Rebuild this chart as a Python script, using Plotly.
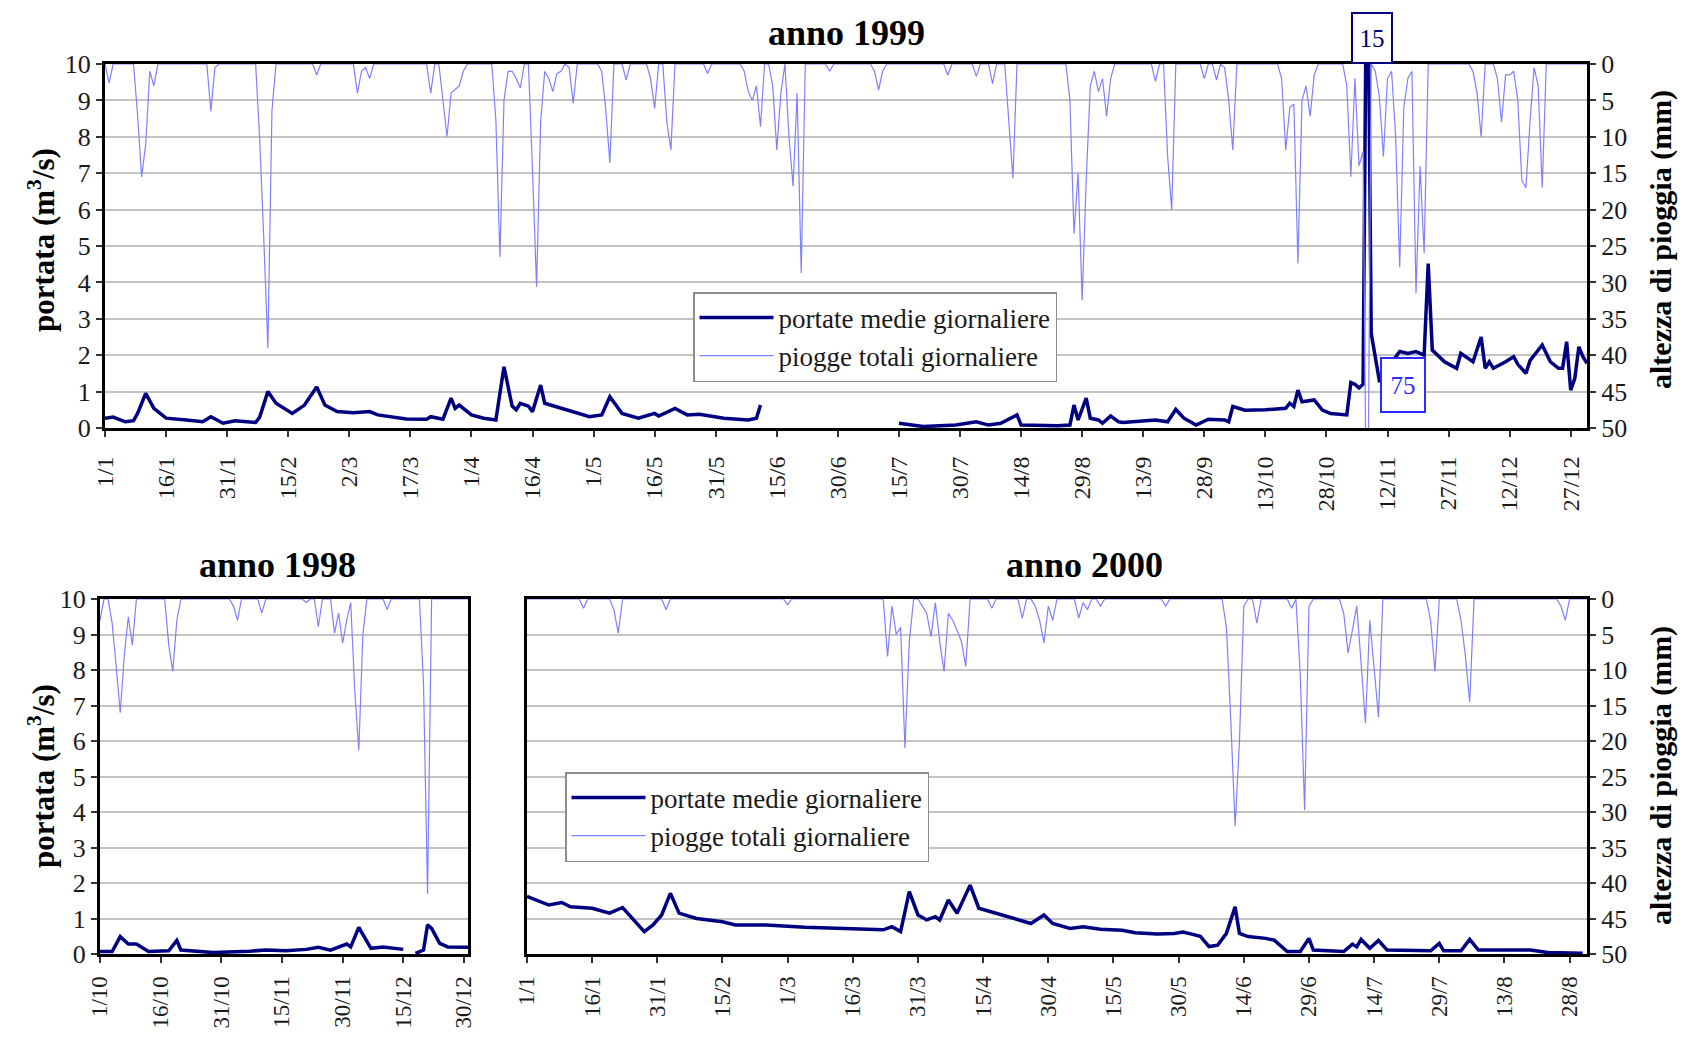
import pandas as pd
import plotly.graph_objects as go

# ---------------- DATA ----------------
# anno 1999 : day offset from 1 Jan 1999
flow_1999_day = [0, 2, 5, 7, 8, 10, 12, 15, 20, 24, 26, 29, 32, 37, 38, 40, 42, 46, 49, 52, 54, 57, 61, 65, 67,
                 74, 79, 80, 83, 85, 86, 87, 90, 93, 96, 98, 100, 101, 102, 104, 105, 107, 108, 112, 115, 119,
                 122, 124, 127, 131, 135, 136, 140, 143, 146, 152, 158, 160, 161, 162,
                 195, 201, 209, 214, 217, 220, 224, 225, 234, 237, 238, 239, 241, 242, 244, 245, 247, 249, 250,
                 258, 261, 263, 265, 268, 271, 275, 276, 277, 280, 285, 290, 291, 292, 293, 294, 297, 299, 301,
                 305, 306, 307, 308, 309, 310, 311, 312, 313, 314, 316, 318, 320, 322, 324, 325, 326, 329, 332,
                 333, 335, 336, 338, 339, 340, 341, 344, 346, 347, 349, 350, 353, 355, 357, 358, 359, 360, 361,
                 362, 363, 364]
flow_1999_q = [0.27, 0.3, 0.17, 0.2, 0.4, 0.95, 0.54, 0.27, 0.22, 0.17, 0.31, 0.13, 0.2, 0.15, 0.3, 1.0, 0.68,
               0.4, 0.63, 1.13, 0.63, 0.45, 0.42, 0.45, 0.36,
               0.25, 0.24, 0.31, 0.24, 0.82, 0.54, 0.63, 0.36, 0.27, 0.22, 1.68, 0.6, 0.5, 0.68, 0.6, 0.45,
               1.18, 0.68, 0.54, 0.45, 0.31,
               0.36, 0.86, 0.4, 0.27, 0.4, 0.33, 0.54, 0.36, 0.38, 0.27, 0.22, 0.27, 0.63, None,
               0.13, 0.04, 0.08, 0.17, 0.08, 0.13, 0.36, 0.08, 0.06, 0.08, 0.63, 0.22, 0.82, 0.27, 0.22, 0.13,
               0.33, 0.17, 0.15,
               0.22, 0.17, 0.51, 0.27, 0.08, 0.24, 0.22, 0.17, 0.59, 0.49, 0.5, 0.54, 0.68, 0.59, 1.04, 0.72,
               0.77, 0.49, 0.4,
               0.36, 1.25, 1.2, 1.1, 1.2, 15, 2.6, 1.9, 1.3, 1.3, 1.8, 2.1, 2.05, 2.1, 2.0, 4.52, 2.14, 1.82,
               1.64,
               2.05, 1.9, 1.82, 2.5, 1.64, 1.82, 1.64, 1.82, 1.96, 1.75, 1.5, 1.85, 2.28, 1.82, 1.64, 1.64,
               2.37, 1.04, 1.36,
               2.23, 1.96, 1.78]
rain_1999_day = [0, 1, 2, 7, 8, 9, 10, 11, 12, 13, 25, 26, 27, 28, 37, 38, 39, 40, 41, 42, 51, 52, 53,
                 61, 62, 63, 64, 65, 66, 79, 80, 81, 82, 83, 84, 85, 86, 87, 88, 89,
                 95, 96, 97, 98, 99, 100, 101, 102, 103, 104, 105, 106, 107, 108, 109, 110, 111, 112, 113,
                 114, 115, 116, 121, 122, 123, 124, 125, 127, 128, 129, 133, 134, 135, 136, 137, 138, 139, 140,
                 147, 148, 149, 156, 157, 158, 159, 160, 161, 162, 163, 164, 165, 166, 167, 168, 169, 170, 171,
                 172, 177, 178, 179, 188, 189, 190, 191, 192, 206, 207, 208, 213, 214, 215, 217, 218, 219,
                 221, 222, 223, 224, 236, 237, 238, 239, 240, 241, 242, 243, 244, 245, 246, 247, 248,
                 257, 258, 259, 260, 261, 262, 263, 269, 270, 271, 272, 273, 274, 275, 276, 277, 278,
                 288, 289, 290, 291, 292, 293, 294, 295, 296, 297, 298, 304, 305, 306, 307, 308, 309, 310, 311,
                 312, 313, 314, 315, 316, 317, 318, 319, 320, 321, 322, 323, 324, 325, 335, 336, 337, 338, 339,
                 341, 342, 343, 344, 345, 346, 347, 348, 349, 350, 351, 352, 353, 354, 364]
rain_1999_mm = [0, 2.6, 0, 0, 7, 15.5, 11, 1, 3, 0, 0, 6.5, 0.5, 0, 0, 10.4, 24, 39, 6.5, 0, 0, 1.5, 0,
                0, 4, 1, 0.5, 2, 0, 0, 4, 0, 0, 5, 10, 4, 3.5, 3, 1, 0,
                0, 7.7, 26.5, 5, 1, 1, 2, 3.3, 0, 0, 14.5, 30.6, 8, 1, 2, 3.8, 1.3, 1, 0,
                0.5, 5.4, 0, 0, 1, 6.3, 13.6, 0, 0, 2.2, 0, 0, 2, 6.1, 0, 0, 8, 11.8, 0,
                0, 1.3, 0, 0, 1, 3.8, 5, 3, 8.6, 0, 0, 3, 11.8, 4, 0, 10, 16.8, 4, 28.7,
                0, 0, 1, 0, 0, 1, 3.6, 1, 0, 0, 1.5, 0, 0, 1.7, 0, 0, 2.7, 0,
                0, 8, 15.7, 0, 0, 5, 23.3, 15, 32.4, 16, 3, 1, 3.8, 2, 7.2, 2, 0,
                0, 2.4, 0, 0, 12.7, 20, 0, 0, 2, 0, 0, 2.2, 0, 0.5, 5, 11.8, 0,
                0, 2, 11.8, 6, 5.5, 27.4, 5, 3, 7.2, 1.5, 0, 0, 3, 15.5, 2, 14, 12, 75, 0,
                1, 4.5, 12.7, 2, 1, 10, 27.9, 6, 2, 1, 31.5, 14, 26, 0, 0, 1, 4, 10, 0,
                0, 2, 8, 1.5, 1.5, 1, 5, 16, 17, 8, 0.5, 3, 17, 0, 0]
ticks_1999 = ["1/1", "16/1", "31/1", "15/2", "2/3", "17/3", "1/4", "16/4", "1/5", "16/5", "31/5", "15/6",
              "30/6", "15/7", "30/7", "14/8", "29/8", "13/9", "28/9", "13/10", "28/10", "12/11", "27/11",
              "12/12", "27/12"]

# anno 1998 : day offset from 1 Oct 1998
flow_1998_day = [0, 3, 5, 7, 9, 12, 17, 19, 20, 28, 37, 41, 46, 51, 54, 57, 61, 62, 64, 67, 70, 75, 76,
                 78, 80, 81, 82, 84, 86, 91]
flow_1998_q = [0.07, 0.07, 0.49, 0.28, 0.28, 0.07, 0.09, 0.38, 0.11, 0.04, 0.08, 0.11, 0.09, 0.13, 0.19,
               0.11, 0.28, 0.2, 0.75, 0.16, 0.2, 0.13, None,
               0.02, 0.11, 0.82, 0.72, 0.3, 0.2, 0.19]
rain_1998_day = [0, 1, 2, 3, 4, 5, 6, 7, 8, 9, 16, 17, 18, 19, 20, 32, 33, 34, 35, 39, 40, 41, 50, 51, 52,
                 53, 54, 55, 57, 58, 59, 60, 61, 62, 63, 64, 65, 66, 70, 71, 72, 79, 80, 81, 82, 91]
rain_1998_mm = [3, 0, 0, 3.4, 9.5, 16, 8, 2.5, 6.5, 0, 0, 6.5, 10.2, 3, 0, 0, 1, 3, 0, 0, 2, 0, 0, 0.5, 0,
                0, 3.9, 0, 0, 4.8, 2, 6.2, 3, 0.5, 13, 21.3, 5, 0, 0, 1.5, 0, 0, 12, 41.5, 0, 0]
ticks_1998 = ["1/10", "16/10", "31/10", "15/11", "30/11", "15/12", "30/12"]

# anno 2000 : day offset from 1 Jan 2000
flow_2000_day = [0, 2, 5, 8, 10, 15, 19, 22, 24, 27, 29, 31, 33, 35, 39, 45, 48, 55, 64, 73, 82, 84, 86,
                 88, 90, 92, 94, 95, 97, 99, 102, 104, 108, 111, 116, 119, 121, 125, 128, 132, 137, 140,
                 145, 149, 151, 153, 155, 157, 159, 161, 163, 164, 166, 170, 172, 175, 178, 180, 181, 188,
                 190, 191, 192, 194, 196, 198, 208, 210, 211, 215, 217, 219, 231, 235, 240, 243]
flow_2000_q = [1.62, 1.52, 1.38, 1.45, 1.33, 1.29, 1.15, 1.31, 1.05, 0.63, 0.82, 1.1, 1.71, 1.15, 1.0,
               0.91, 0.82, 0.82, 0.75, 0.72, 0.68, 0.77, 0.63,
               1.76, 1.1, 0.96, 1.05, 0.96, 1.52, 1.15, 1.94, 1.29, 1.15, 1.05, 0.86, 1.1, 0.86, 0.72,
               0.77, 0.7, 0.67, 0.6,
               0.56, 0.58, 0.62, 0.56, 0.5, 0.21, 0.25, 0.58, 1.33, 0.58, 0.49, 0.44, 0.39, 0.07, 0.07,
               0.44, 0.11, 0.07,
               0.28, 0.2, 0.41, 0.16, 0.38, 0.11, 0.09, 0.3, 0.09, 0.09, 0.41, 0.11, 0.11, 0.04, 0.04, 0.02]
rain_2000_day = [0, 12, 13, 14, 19, 20, 21, 22, 31, 32, 33, 59, 60, 61, 82, 83, 84, 85, 86, 87, 88, 89,
                 90, 91, 92, 93, 94, 95, 96, 97, 98, 99, 100, 101, 102, 106, 107, 108, 113, 114, 115,
                 116, 117, 118, 119, 120, 121, 122, 126, 127, 128, 129, 130, 131, 132, 133, 146, 147, 148,
                 160, 161, 162, 163, 164, 165, 166, 167, 168, 169, 175, 176, 177, 178, 179, 180, 181,
                 187, 188, 189, 190, 191, 192, 193, 194, 195, 196, 197, 207, 208, 209, 210,
                 214, 215, 216, 217, 218, 237, 238, 239, 240, 244]
rain_2000_mm = [0, 0, 1.3, 0, 0, 1.5, 4.8, 0, 0, 1.5, 0, 0, 0.8, 0, 0, 8.1, 1, 5, 4, 21, 6, 0,
                0, 1, 2, 5.3, 0.5, 6, 10.2, 2, 3, 4.4, 6, 9.5, 0, 0, 1.3, 0, 0, 2.7, 0,
                0, 1, 3, 6.2, 1, 3, 0, 0, 2.7, 0.5, 1.5, 0, 0, 1, 0, 0, 1, 0,
                0, 4, 17, 32, 20, 1, 0, 0, 3.4, 0, 0, 1.3, 0, 10.7, 29.7, 1, 0,
                0, 2, 7.6, 4.4, 1, 9, 17.5, 3, 10, 16.6, 0, 0, 3, 10.2, 0,
                0, 3, 8, 14.5, 0, 0, 1, 3, 0, 0]
ticks_2000 = ["1/1", "16/1", "31/1", "15/2", "1/3", "16/3", "31/3", "15/4", "30/4", "15/5", "30/5",
              "14/6", "29/6", "14/7", "29/7", "13/8", "28/8"]

names = ["portate medie giornaliere", "piogge totali giornaliere"]

# ---------------- STYLE ----------------
PAGE_W, PAGE_H = 1686, 1042
OFF = 8                      # default page margin around the plot div
W, H = PAGE_W - 2 * OFF, PAGE_H - 2 * OFF
FONT = "Liberation Serif, Times New Roman, serif"
NAVY = "#000080"
RAIN = "#8080ff"
GRID = "#c4c4c4"
TXT = "#1a1a1a"


def dates(start, days):
    return pd.Timestamp(start) + pd.to_timedelta(days, unit="D")


def tickdates(labels, year):
    return pd.to_datetime([f"{t}/{year}" for t in labels], format="%d/%m/%Y")


def px(x):
    return (x - OFF) / W


def py(y):
    return 1 - (y - OFF) / H


fig = go.Figure()

panels = [
    ("1999-01-01", flow_1999_day, flow_1999_q, rain_1999_day, rain_1999_mm, "x", "y", "y2", "legend", True),
    ("1998-10-01", flow_1998_day, flow_1998_q, rain_1998_day, rain_1998_mm, "x2", "y3", "y4", "legend", False),
    ("2000-01-01", flow_2000_day, flow_2000_q, rain_2000_day, rain_2000_mm, "x3", "y5", "y6", "legend2", True),
]
for start, fd, fq, rd, rm, xa, ya, ya2, leg, show in panels:
    fig.add_trace(go.Scatter(x=dates(start, fd), y=fq, mode="lines", name=names[0],
                             line=dict(color=NAVY, width=3.5), xaxis=xa, yaxis=ya,
                             legend=leg, showlegend=show))
    fig.add_trace(go.Scatter(x=dates(start, rd), y=rm, mode="lines", name=names[1],
                             line=dict(color=RAIN, width=1.2), xaxis=xa, yaxis=ya2,
                             legend=leg, showlegend=show))

xcommon = dict(type="date", showgrid=False, showline=True, linecolor="black", linewidth=3, mirror=True,
               ticks="outside", ticklen=6, tickwidth=1.5, tickcolor="#333", tickangle=-90,
               tickfont=dict(family=FONT, size=24, color=TXT), ticklabelstandoff=10, zeroline=False,
               fixedrange=True, automargin=False)
xbottom = dict(xcommon, tickfont=dict(family=FONT, size=23, color=TXT), ticklabelstandoff=4)
yleft = dict(range=[0, 10], dtick=1, tick0=0, showgrid=True, gridcolor=GRID, gridwidth=2,
             showline=True, linecolor="black", linewidth=3, mirror=True, zeroline=False,
             ticks="outside", ticklen=6, tickwidth=1.5, tickcolor="#333", automargin=False,
             tickfont=dict(family=FONT, size=26, color=TXT))
yright = dict(range=[50, 0], dtick=5, tick0=0, showgrid=False, showline=True, linecolor="black",
              linewidth=3, zeroline=False, side="right", ticks="outside", ticklen=6, tickwidth=1.5,
              tickcolor="#333", automargin=False, tickfont=dict(family=FONT, size=26, color=TXT))

top_x = [px(105), px(1587)]
top_y = [py(428), py(64)]
bl_x = [px(100), px(468)]
br_x = [px(527), px(1587)]
bot_y = [py(954), py(599)]

fig.update_layout(
    xaxis=dict(xcommon, domain=top_x, anchor="y", range=["1999-01-01", "1999-12-31"],
               tickvals=tickdates(ticks_1999, 1999), ticktext=ticks_1999),
    yaxis=dict(yleft, domain=top_y, anchor="x"),
    yaxis2=dict(yright, overlaying="y", anchor="x"),
    xaxis2=dict(xbottom, domain=bl_x, anchor="y3", range=["1998-10-01", "1998-12-31"],
                tickvals=tickdates(ticks_1998, 1998), ticktext=ticks_1998),
    yaxis3=dict(yleft, domain=bot_y, anchor="x2"),
    yaxis4=dict(yright, overlaying="y3", anchor="x2", showticklabels=False, ticks=""),
    xaxis3=dict(xbottom, domain=br_x, anchor="y5", range=["2000-01-01", "2000-09-01"],
                tickvals=tickdates(ticks_2000, 2000), ticktext=ticks_2000),
    yaxis5=dict(yleft, domain=bot_y, anchor="x3", showticklabels=False, ticks=""),
    yaxis6=dict(yright, overlaying="y5", anchor="x3"),
)

legcommon = dict(bgcolor="white", bordercolor="#8c8c8c", borderwidth=1.5,
                 font=dict(family=FONT, size=27, color=TXT), xanchor="left", yanchor="top",
                 itemwidth=74, tracegroupgap=0)
fig.update_layout(
    legend=dict(legcommon, x=px(693), y=py(292)),
    legend2=dict(legcommon, x=px(565), y=py(772)),
)

# titles and axis titles
ann = []
for text, x, y in [("anno 1999", 847, 33), ("anno 1998", 277, 565), ("anno 2000", 1084, 565)]:
    ann.append(dict(text=f"<b>{text}</b>", x=px(x), y=py(y), xref="paper", yref="paper",
                    showarrow=False, font=dict(family=FONT, size=36, color="black"),
                    xanchor="center", yanchor="middle"))
for yc in (240, 776):
    ann.append(dict(text="<b>portata (m<sup>3</sup>/s)</b>", x=px(41), y=py(yc), xref="paper", yref="paper",
                    showarrow=False, textangle=-90, font=dict(family=FONT, size=31, color="black"),
                    xanchor="center", yanchor="middle"))
    ann.append(dict(text="<b>altezza di pioggia (mm)</b>", x=px(1661), y=py(yc), xref="paper",
                    yref="paper", showarrow=False, textangle=-90,
                    font=dict(family=FONT, size=30, color="black"), xanchor="center", yanchor="middle"))

# clipped peak labels (values off the scale)
i_q = max(range(len(flow_1999_q)), key=lambda i: flow_1999_q[i] or 0)
i_r = max(range(len(rain_1999_mm)), key=lambda i: rain_1999_mm[i])
ann.append(dict(text=f"{flow_1999_q[i_q]:g}", x=dates("1999-01-01", [flow_1999_day[i_q]])[0], xref="x",
                y=top_y[1], yref="paper", yanchor="bottom", xanchor="center", xshift=5, showarrow=False,
                font=dict(family=FONT, size=25, color=NAVY), bordercolor=NAVY, borderwidth=2,
                bgcolor="white", width=36, height=46))
ann.append(dict(text=f"{rain_1999_mm[i_r]:g}", x=dates("1999-01-01", [rain_1999_day[i_r]])[0], xref="x",
                y=py(385), yref="paper", yanchor="middle", xanchor="center", xshift=36, showarrow=False,
                font=dict(family=FONT, size=25, color="#2b2bff"), bordercolor="#2b2bff", borderwidth=2,
                bgcolor="white", width=40, height=50))

fig.update_layout(
    annotations=ann,
    width=W, height=H, autosize=False,
    margin=dict(l=0, r=0, t=0, b=0),
    paper_bgcolor="white", plot_bgcolor="white",
    font=dict(family=FONT, color=TXT),
)

fig.write_html("out.html")
